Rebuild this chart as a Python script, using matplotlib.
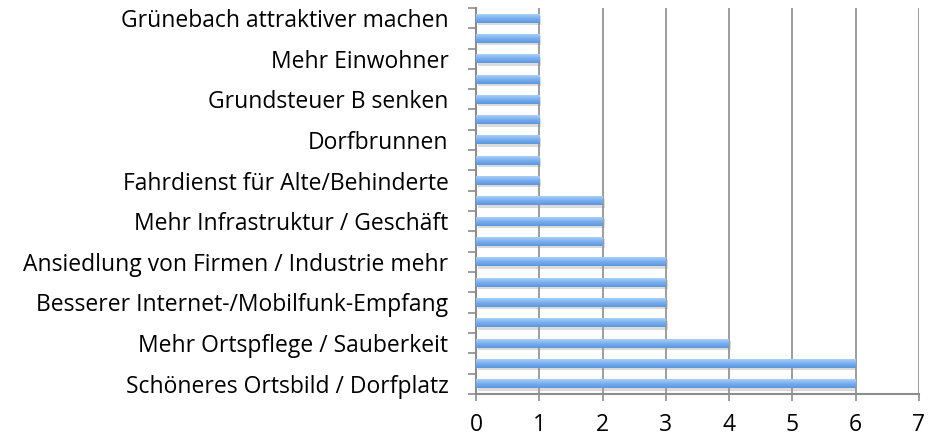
import numpy as np
import matplotlib
matplotlib.use('Agg')
import matplotlib.pyplot as plt
from matplotlib.colors import LinearSegmentedColormap

# categories from bottom to top, only every other one carries a visible label
labels = ['Schöneres Ortsbild / Dorfplatz', '',
          'Mehr Ortspflege / Sauberkeit', '',
          'Besserer Internet-/Mobilfunk-Empfang', '',
          'Ansiedlung von Firmen / Industrie mehr', '',
          'Mehr Infrastruktur / Geschäft', '',
          'Fahrdienst für Alte/Behinderte', '',
          'Dorfbrunnen', '',
          'Grundsteuer B senken', '',
          'Mehr Einwohner', '',
          'Grünebach attraktiver machen']
values = [6, 6, 4, 3, 3, 3, 3, 2, 2, 2, 1, 1, 1, 1, 1, 1, 1, 1, 1]
x_ticks = [0, 1, 2, 3, 4, 5, 6, 7]

plt.rcParams['font.family'] = ['Open Sans', 'DejaVu Sans']

fig = plt.figure(figsize=(9.3, 4.42), dpi=100)
ax = fig.add_axes([0.512, 0.109, 0.476, 0.873])

pos = np.arange(len(values))
bar_h = 0.44
grid_col = '#8c8c8c'

# soft shadow under each bar
ax.barh(pos - 0.12, values, height=bar_h, color='#9a9a9a', alpha=0.35,
        left=0.03, zorder=2, linewidth=0)
bars = ax.barh(pos, values, height=bar_h, color='#75aaea', zorder=3, linewidth=0)

# vertical gradient inside each bar
cmap = LinearSegmentedColormap.from_list('bar', ['#5b97dd', '#79aeee', '#a9cffa'])
grad = np.linspace(0, 1, 64).reshape(-1, 1)
for b in bars:
    x0, y0 = b.get_x(), b.get_y()
    im = ax.imshow(grad, cmap=cmap, aspect='auto', origin='lower',
                   extent=[x0, x0 + b.get_width(), y0, y0 + b.get_height()],
                   zorder=4, interpolation='bilinear')
    im.set_clip_path(b)

ax.set_xlim(0, 7)
ax.set_ylim(-0.5, len(values) - 0.5)
ax.set_xticks(x_ticks)
ax.set_yticks(pos)
ax.set_yticklabels(labels)
ax.set_yticks(np.arange(-0.5, len(values), 1.0), minor=True)

ax.grid(axis='x', color=grid_col, linewidth=1.2, zorder=1)
ax.set_axisbelow(True)
for side in ['top', 'right']:
    ax.spines[side].set_visible(False)
for side in ['left', 'bottom']:
    ax.spines[side].set_color(grid_col)
    ax.spines[side].set_linewidth(1.5)

ax.tick_params(axis='y', which='major', length=0, pad=20, labelsize=16.5)
ax.tick_params(axis='y', which='minor', length=6, width=1.2, color=grid_col)
ax.tick_params(axis='x', length=5, width=1.2, color=grid_col, pad=9, labelsize=16.5)

fig.savefig('out.png', dpi=100)
